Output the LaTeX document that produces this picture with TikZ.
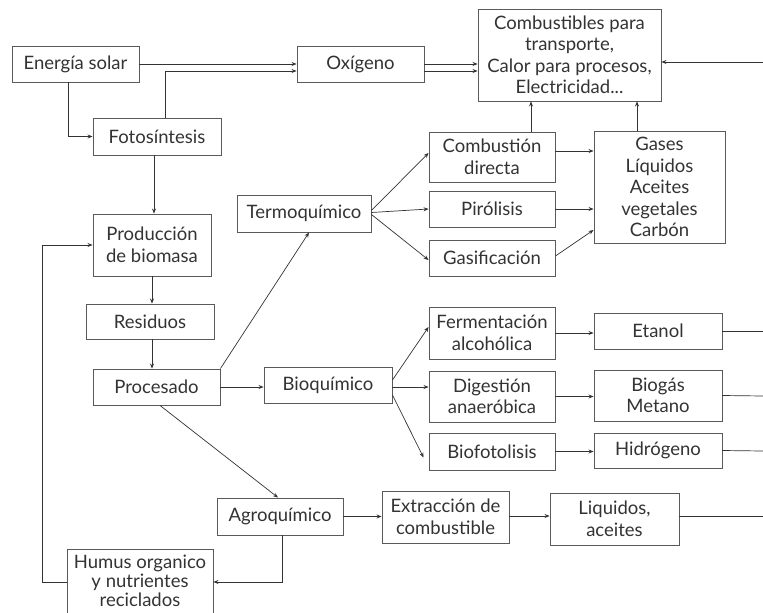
\documentclass[tikz,border=0pt]{standalone}
\usepackage{fontspec}
\setmainfont{Lato}
\usetikzlibrary{arrows.meta,calc}
\definecolor{ink}{HTML}{333333}
\definecolor{edge}{HTML}{5A5A5A}
\tikzset{
  box/.style={draw=edge, line width=0.9pt, fill=white, inner sep=0pt, align=center,
    text=ink, font=\fontsize{18.5}{21.5}\selectfont},
  arr/.style={draw=ink, line width=0.7pt, -{Stealth[length=5pt,width=4pt]}},
  ln/.style={draw=ink, line width=0.7pt},
}
\newcommand{\bx}[6]{\node[box, minimum width=#3pt, minimum height=#4pt, #5] (#1) at (#2) {#6};}
\begin{document}
\begin{tikzpicture}[x=1pt,y=-1pt]
\useasboundingbox (0,0) rectangle (763,613);
% nodes
\bx{sol}{75.5,64}{127}{36}{}{Energía solar}
\bx{foto}{157,136.5}{128}{37}{}{Fotosíntesis}
\bx{oxi}{360.5,64}{127}{36}{}{Oxígeno}
\bx{comb}{569.5,55}{183}{92}{}{Combustibles para\\transporte,\\Calor para procesos,\\Electricidad...}
\bx{cdir}{492,157}{126}{50}{}{Combustión\\directa}
\bx{piro}{492,209}{126}{36}{}{Pirólisis}
\bx{gasif}{492,258}{126}{36}{}{Gasificación}
\bx{gases}{659.5,187}{131}{112}{}{Gases\\Líquidos\\Aceites\\vegetales\\Carbón}
\bx{termo}{304,213.5}{134}{37}{}{Termoquímico}
\bx{prod}{152,245}{118}{62}{}{Producción\\de biomasa}
\bx{resid}{150,321.5}{128}{35}{}{Residuos}
\bx{proc}{156.5,387}{127}{36}{}{Procesado}
\bx{bioq}{328,385}{128}{36}{}{Bioquímico}
\bx{ferm}{492,333}{126}{52}{}{Fermentación\\alcohólica}
\bx{dig}{492,396.5}{126}{51}{}{Digestión\\anaeróbica}
\bx{biof}{492,451.5}{126}{37}{}{Biofotolisis}
\bx{etanol}{658,331}{128}{36}{}{Etanol}
\bx{biogas}{658,395.5}{128}{51}{}{Biogás\\Metano}
\bx{hidro}{658,450.5}{128}{35}{}{Hidrógeno}
\bx{agro}{280,516.5}{126}{37}{}{Agroquímico}
\bx{extr}{445.5,517}{127}{52}{}{Extracción de\\combustible}
\bx{liq}{614.5,519}{129}{52}{}{Liquidos,\\aceites}
\bx{humus}{140,581}{146}{64}{font=\fontsize{18.5}{19}\selectfont}{Humus organico\\y nutrientes\\reciclados}
% free ends at the right edge
\coordinate (rin) at (763,62);
\coordinate (r1) at (763,331);
\coordinate (r2) at (763,396);
\coordinate (r3) at (763,451);
\coordinate (r4) at (763,519);
% connectors top
\draw[arr] (sol.east) -- (sol.east -| oxi.west);
\draw[arr] ([xshift=8pt]foto.north) |- ([yshift=-7pt]oxi.west);
\draw[arr] ([xshift=-7.5pt]sol.south) |- (foto.west);
\draw[arr] (oxi.east) -- (oxi.east -| comb.west);
\draw[arr] ([yshift=-7pt]oxi.east) -- ([yshift=-7pt]oxi.east -| comb.west);
\draw[arr] (rin) -- (rin -| comb.east);
\draw[arr] ([xshift=39pt]cdir.north) -- ([xshift=39pt]cdir.north |- comb.south);
\draw[arr] ([xshift=-22.5pt]gases.north) -- ([xshift=-22.5pt]gases.north |- comb.south);
% thermochemical
\draw[arr] ([yshift=6pt]cdir.east) -- ([yshift=6pt]cdir.east -| gases.west);
\draw[arr] (piro.east) -- (piro.east -| gases.west);
\draw[arr] ([yshift=2pt]gasif.east) -- ([yshift=-43pt]gases.west);
\draw[arr] ([yshift=3pt]termo.east) -- ([yshift=4pt]cdir.west);
\draw[arr] ([yshift=1pt]termo.east) -- (piro.west);
\draw[arr] ([yshift=-1pt]termo.east) -- ([yshift=-2pt]gasif.west);
\draw[arr] (proc.north east) -- ([xshift=5pt]termo.south);
% left column
\draw[arr] ([xshift=-3pt]foto.south) -- ([xshift=-3pt]foto.south |- prod.north);
\draw[arr] (prod.south) -- (prod.south |- resid.north);
\draw[arr] ([xshift=2pt]resid.south) -- ([xshift=2pt]resid.south |- proc.north);
\draw[arr] (proc.east) -- (proc.east -| bioq.west);
% biochemical
\draw[arr] ([yshift=5pt]bioq.east) -- ([yshift=6pt]ferm.west);
\draw[arr] ([yshift=-2pt]bioq.east) -- ([yshift=-2pt]bioq.east -| dig.west);
\draw[arr] ([yshift=-10pt]bioq.east) -- ([xshift=-5pt,yshift=-6pt]biof.west);
\draw[arr] (ferm.east) -- (ferm.east -| etanol.west);
\draw[arr] (dig.east) -- (dig.east -| biogas.west);
\draw[arr] (biof.east) -- (biof.east -| hidro.west);
\draw[ln] (etanol.east) -- (r1);
\draw[ln] (biogas.east) -- (r2);
\draw[ln] (hidro.east) -- (r3);
% agrochemical
\draw[arr] ([xshift=3.5pt]proc.south) -- ([xshift=-2pt]agro.north);
\draw[arr] (agro.east) -- (agro.east -| extr.west);
\draw[arr] ([yshift=1pt]extr.east) -- ([yshift=1pt]extr.east -| liq.west);
\draw[ln] ([yshift=3pt]liq.east) -- ([yshift=3pt]r4);
\draw[arr] ([xshift=2pt]agro.south) |- ([yshift=-1pt]humus.east);
\draw[arr] ([yshift=-1pt]humus.west) -- ++(-24,0) |- (prod.west);
\end{tikzpicture}
\end{document}
